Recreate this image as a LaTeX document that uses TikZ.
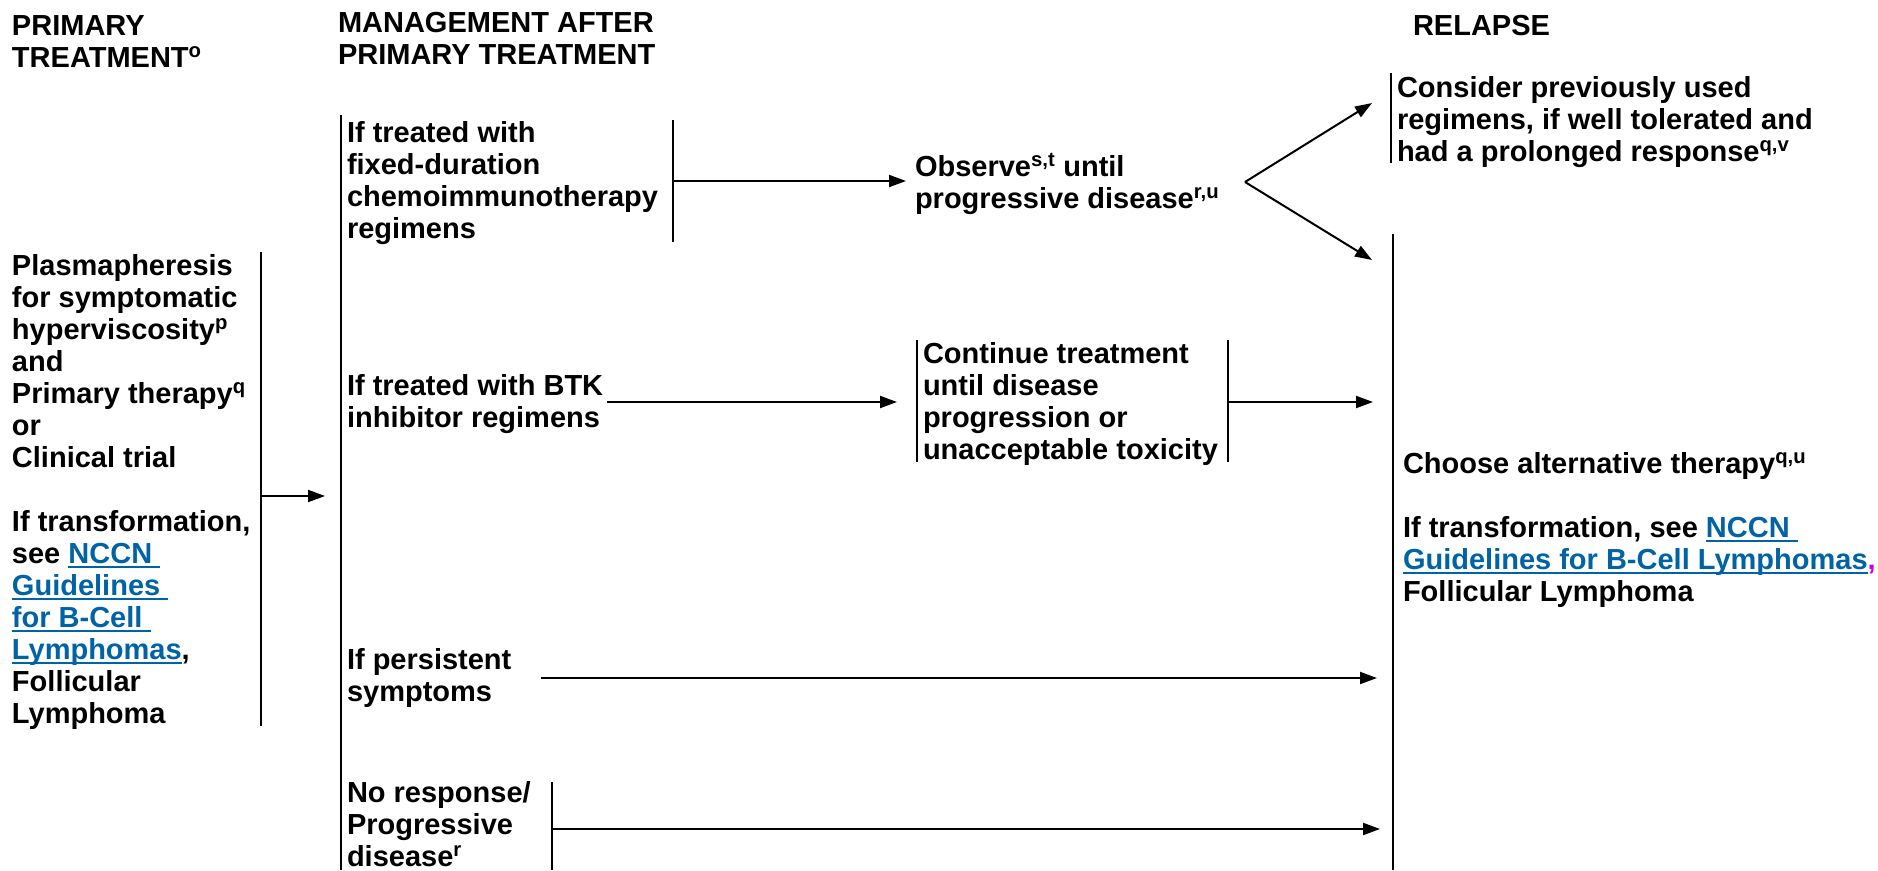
\documentclass[tikz,border=0pt]{standalone}
\usepackage{fontspec}
\setmainfont{Liberation Sans}
\usetikzlibrary{arrows.meta}
\definecolor{linkblue}{RGB}{0,99,166}
\definecolor{commamag}{RGB}{200,0,230}
\newsavebox{\lnkbox}
\newcommand{\lnk}[1]{\textcolor{linkblue}{\sbox{\lnkbox}{#1}\rlap{\rule[-4.5pt]{\wd\lnkbox}{1.6pt}}\usebox{\lnkbox}}}
\tikzset{
  txt/.style={anchor=north west, inner sep=0pt, outer sep=0pt, align=left,
    font=\fontsize{29}{32}\selectfont\bfseries},
  bar/.style={line width=2pt},
  arr/.style={line width=2pt, -{Triangle[length=17pt,width=12pt]}}
}
\begin{document}
\begin{tikzpicture}[x=1pt,y=-1pt]
\useasboundingbox (0,0) rectangle (1878,870);
% headers
\node[txt] (h1) at (12,12.6) {\strut PRIMARY\\TREATMENT\textsuperscript{o}};
\node[txt] (h2) at (338,9.6) {\strut MANAGEMENT AFTER\\PRIMARY TREATMENT};
\node[txt] (h3) at (1413,12.6) {\strut RELAPSE};
% primary treatment
\node[txt] (prim) at (12,252.6) {\strut Plasmapheresis\\for symptomatic\\hyperviscosity\textsuperscript{p}\\and\\Primary therapy\textsuperscript{q}\\or\\Clinical trial\\[32pt]If transformation,\\see \lnk{NCCN\ }\\\lnk{Guidelines\ }\\\lnk{for B-Cell\ }\\\lnk{Lymphomas},\\Follicular\\Lymphoma};
\coordinate (pbT) at (261,252);
\coordinate (pbB) at (261,726);
\draw[bar] (pbT) -- (pbB);
\coordinate (pA) at (261,496);
\coordinate (pB) at (325,496);
\draw[arr] (pA) -- (pB);
% management main line
\coordinate (mT) at (341,115);
\coordinate (mB) at (341,870);
\draw[bar] (mT) -- (mB);
% fixed duration
\node[txt] (fixed) at (347,119.6) {\strut If treated with\\fixed-duration\\chemoimmunotherapy\\regimens};
\coordinate (fbT) at (673,120);
\coordinate (fbB) at (673,242);
\draw[bar] (fbT) -- (fbB);
\coordinate (fA) at (673,181);
\coordinate (fB) at (906,181);
\draw[arr] (fA) -- (fB);
\node[txt] (observe) at (915,153.6) {\strut Observe\textsuperscript{s,t} until\\progressive disease\textsuperscript{r,u}};
\coordinate (apex) at (1245,182);
\coordinate (upT) at (1372,103);
\coordinate (dnT) at (1372,260);
\draw[arr] (apex) -- (upT);
\draw[arr] (apex) -- (dnT);
% consider
\coordinate (cbT) at (1391,73);
\coordinate (cbB) at (1391,163);
\draw[bar] (cbT) -- (cbB);
\node[txt] (consider) at (1397,74.6) {\strut Consider previously used\\regimens, if well tolerated and\\had a prolonged response\textsuperscript{q,v}};
% relapse line
\coordinate (rT) at (1393,234);
\coordinate (rB) at (1393,870);
\draw[bar] (rT) -- (rB);
\node[txt] (choose) at (1403,450.6) {\strut Choose alternative therapy\textsuperscript{q,u}\\[32pt]If transformation, see \lnk{NCCN\ }\\\lnk{Guidelines for B-Cell Lymphomas}\textcolor{commamag}{,}\\Follicular Lymphoma};
% BTK
\node[txt] (btk) at (347,372.6) {\strut If treated with BTK\\inhibitor regimens};
\coordinate (bA) at (607,402);
\coordinate (bB) at (897,402);
\draw[arr] (bA) -- (bB);
\coordinate (clT) at (917,340);
\coordinate (clB) at (917,462);
\coordinate (crT) at (1228,340);
\coordinate (crB) at (1228,462);
\draw[bar] (clT) -- (clB);
\draw[bar] (crT) -- (crB);
\node[txt] (cont) at (923,340.6) {\strut Continue treatment\\until disease\\progression or\\unacceptable toxicity};
\coordinate (cA) at (1228,402);
\coordinate (cB) at (1373,402);
\draw[arr] (cA) -- (cB);
% persistent
\node[txt] (persist) at (347,646.6) {\strut If persistent\\symptoms};
\coordinate (sA) at (541,678);
\coordinate (sB) at (1377,678);
\draw[arr] (sA) -- (sB);
% no response
\node[txt] (noresp) at (347,779.6) {\strut No response/\\Progressive\\disease\textsuperscript{r}};
\coordinate (nbT) at (552,782);
\coordinate (nbB) at (552,870);
\draw[bar] (nbT) -- (nbB);
\coordinate (nA) at (552,829);
\coordinate (nB) at (1380,829);
\draw[arr] (nA) -- (nB);
\end{tikzpicture}
\end{document}
